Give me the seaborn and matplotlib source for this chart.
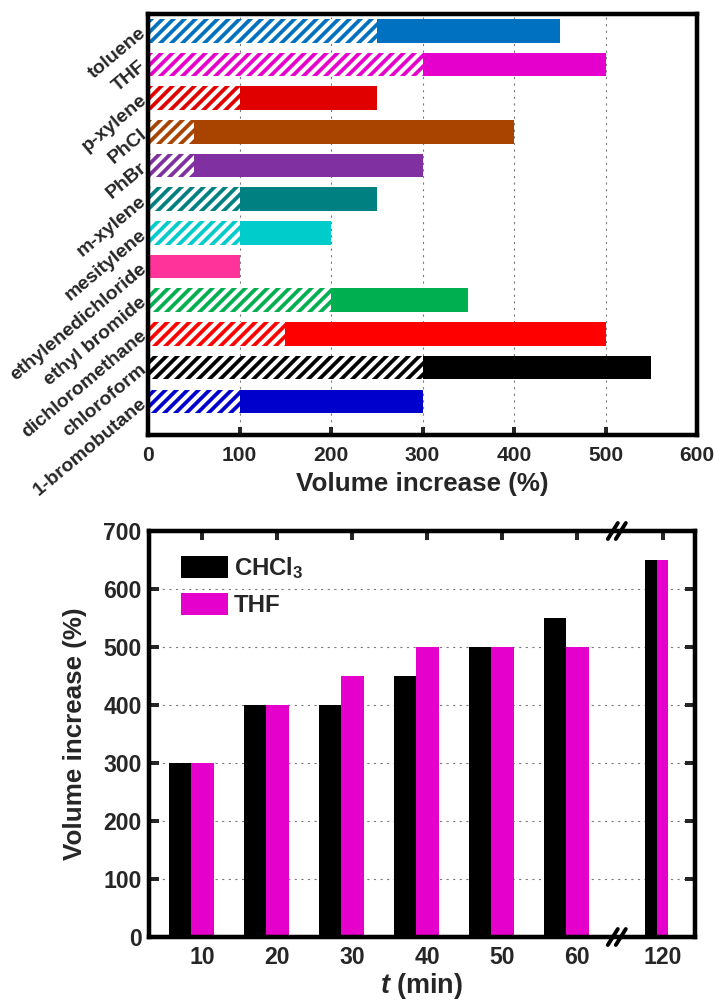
import numpy as np
import pandas as pd
import matplotlib
matplotlib.use("Agg")
import matplotlib.pyplot as plt
import matplotlib.patches as mpatches
from matplotlib.font_manager import FontProperties
import seaborn as sns

# ---------------- data ----------------
solvents = ['toluene', 'THF', 'p-xylene', 'PhCl', 'PhBr', 'm-xylene', 'mesitylene',
            'ethylenedichloride', 'ethyl bromide', 'dichloromethane', 'chloroform',
            '1-bromobutane']
total_increase = [450, 500, 250, 400, 300, 250, 200, 100, 350, 500, 550, 300]
hatched_increase = [250, 300, 100, 50, 50, 100, 100, 0, 200, 150, 300, 100]
bar_colors = ['#0070C0', '#E600CC', '#E00000', '#A84300', '#8030A0', '#008080',
              '#00CCCC', '#FF3399', '#00B050', '#FF0000', '#000000', '#0000CC']
top_xticks = [0, 100, 200, 300, 400, 500, 600]

times = ['10', '20', '30', '40', '50', '60', '120']
chcl3 = [300, 400, 400, 450, 500, 550, 650]
thf = [300, 400, 450, 500, 500, 500, 650]
series_names = ['CHCl$_3$', 'THF']
series_colors = ['#000000', '#E600CC']
bottom_yticks = [0, 100, 200, 300, 400, 500, 600, 700]

# ---------------- style ----------------
DPI = 132
PT = 72.0 / DPI  # points per pixel

sns.set_style("white")
plt.rcParams['font.family'] = ['Liberation Sans', 'DejaVu Sans']
plt.rcParams['font.weight'] = 'bold'
plt.rcParams['mathtext.fontset'] = 'custom'
plt.rcParams['mathtext.rm'] = 'Liberation Sans:bold'
plt.rcParams['mathtext.bf'] = 'Liberation Sans:bold'
plt.rcParams['mathtext.it'] = 'Liberation Sans:italic:bold'
plt.rcParams['hatch.linewidth'] = 2.2
plt.rcParams['axes.edgecolor'] = 'black'

fig = plt.figure(figsize=(716 / DPI, 1005 / DPI), dpi=DPI)

spine_w = 4.5 * PT
grid_kw = dict(color='#7a7a7a', linewidth=0.6, linestyle=(0, (2, 4)))

# ---------------- top chart ----------------
ax1 = fig.add_axes([148 / 716, 1 - 435 / 1005, (697 - 148) / 716, (435 - 14) / 1005])
sns.barplot(x=total_increase, y=solvents, hue=solvents, palette=bar_colors,
            orient='h', width=0.7, legend=False, errorbar=None, ax=ax1,
            linewidth=0, saturation=1)
n_before = len(ax1.patches)
sns.barplot(x=hatched_increase, y=solvents, orient='h', width=0.7, fill=False,
            color='white', errorbar=None, ax=ax1)
for p in ax1.patches[n_before:]:
    p.set_facecolor('none')
    p.set_edgecolor('white')
    p.set_linewidth(0)
    p.set_hatch('////')

ax1.set_xlim(top_xticks[0], top_xticks[-1])
ax1.set_ylim(len(solvents) - 1 + 1.0, -0.5)
ax1.set_xticks(top_xticks)
ax1.set_xticklabels([str(v) for v in top_xticks], fontsize=21 * PT, fontweight='bold')
ax1.set_yticks(range(len(solvents)))
ax1.set_yticklabels(solvents, rotation=40, ha='right', va='center',
                    rotation_mode='anchor', fontsize=19.5 * PT, fontweight='bold')
ax1.tick_params(axis='x', direction='in', length=8 * PT, width=4 * PT, pad=6,
                bottom=True, top=False)
ax1.tick_params(axis='y', length=0, pad=2)
ax1.xaxis.grid(True, **grid_kw)
ax1.yaxis.grid(False)
ax1.set_axisbelow(True)
for s in ax1.spines.values():
    s.set_linewidth(spine_w)
    s.set_color('black')
ax1.set_xlabel('Volume increase (%)', fontsize=26 * PT, fontweight='bold', labelpad=4)
ax1.set_ylabel('')

# ---------------- bottom chart ----------------
ax2 = fig.add_axes([149 / 716, 1 - 937 / 1005, (695 - 149) / 716, (937 - 531) / 1005])
n = len(times)
pos = np.arange(n, dtype=float)
pos[-1] += 0.21  # axis break gap before the last time point
main_w, last_w = 0.6, 0.31

df = pd.DataFrame({
    'pos': np.tile(pos, 2),
    'series': np.repeat(series_names, n),
    'value': chcl3 + thf,
})
is_last = np.isclose(df['pos'], pos[-1])
sns.barplot(data=df[~is_last], x='pos', y='value', hue='series', hue_order=series_names,
            palette=series_colors, native_scale=True, width=main_w, errorbar=None,
            legend=False, saturation=1, linewidth=0, ax=ax2)
sns.barplot(data=df[is_last], x='pos', y='value', hue='series', hue_order=series_names,
            palette=series_colors, native_scale=True, width=last_w, errorbar=None,
            legend=False, saturation=1, linewidth=0, ax=ax2)

widths = np.where(np.arange(n) == n - 1, last_w, main_w)
tick_pos = pos + widths / 4
ax2.set_xlim(pos[0] - 0.56, pos[-1] + 0.51)
ax2.set_ylim(bottom_yticks[0], bottom_yticks[-1])
ax2.set_xticks(tick_pos)
ax2.set_xticklabels(times, fontsize=23 * PT, fontweight='bold')
ax2.set_yticks(bottom_yticks)
ax2.set_yticklabels([str(v) for v in bottom_yticks], fontsize=23 * PT, fontweight='bold')
ax2.tick_params(axis='x', direction='in', bottom=False, top=True, length=9 * PT,
                width=4 * PT, pad=5)
ax2.tick_params(axis='y', direction='in', left=True, right=True, length=10 * PT,
                width=4 * PT, pad=4)
ax2.yaxis.grid(True, **grid_kw)
ax2.xaxis.grid(False)
ax2.set_axisbelow(True)
for s in ax2.spines.values():
    s.set_linewidth(spine_w)
    s.set_color('black')
ax2.set_xlabel(r'$\mathit{t}$ (min)', fontsize=27 * PT, fontweight='bold', labelpad=1)
ax2.set_ylabel('Volume increase (%)', fontsize=26 * PT, fontweight='bold', labelpad=9)

handles = [mpatches.Patch(facecolor=c, edgecolor='none') for c in series_colors]
ax2.legend(handles, series_names, loc='upper left',
           bbox_to_anchor=(32 / 546, 1 - 24 / 406), frameon=False,
           handlelength=1.96, handleheight=1.04, handletextpad=0.25,
           labelspacing=0.5, borderpad=0, borderaxespad=0,
           prop=FontProperties(family='Liberation Sans', weight='bold', size=24 * PT))

# axis-break marks between the last two time points
xl0, xl1 = ax2.get_xlim()
xb = ((pos[-2] + main_w / 2) + (pos[-1] - last_w / 2)) / 2
xa = (xb - xl0) / (xl1 - xl0)
bbox = ax2.get_position()
px_x = 1.0 / (bbox.width * 716)
px_y = 1.0 / (bbox.height * 1005)
for yb in (0.0, 1.0):
    for off in (-4, 4):
        ax2.plot([xa + (off - 5) * px_x, xa + (off + 5) * px_x],
                 [yb - 8 * px_y, yb + 8 * px_y], transform=ax2.transAxes,
                 color='black', linewidth=3 * PT * 1.3, clip_on=False,
                 solid_capstyle='round', zorder=5)

fig.savefig('out.png', dpi=DPI)
